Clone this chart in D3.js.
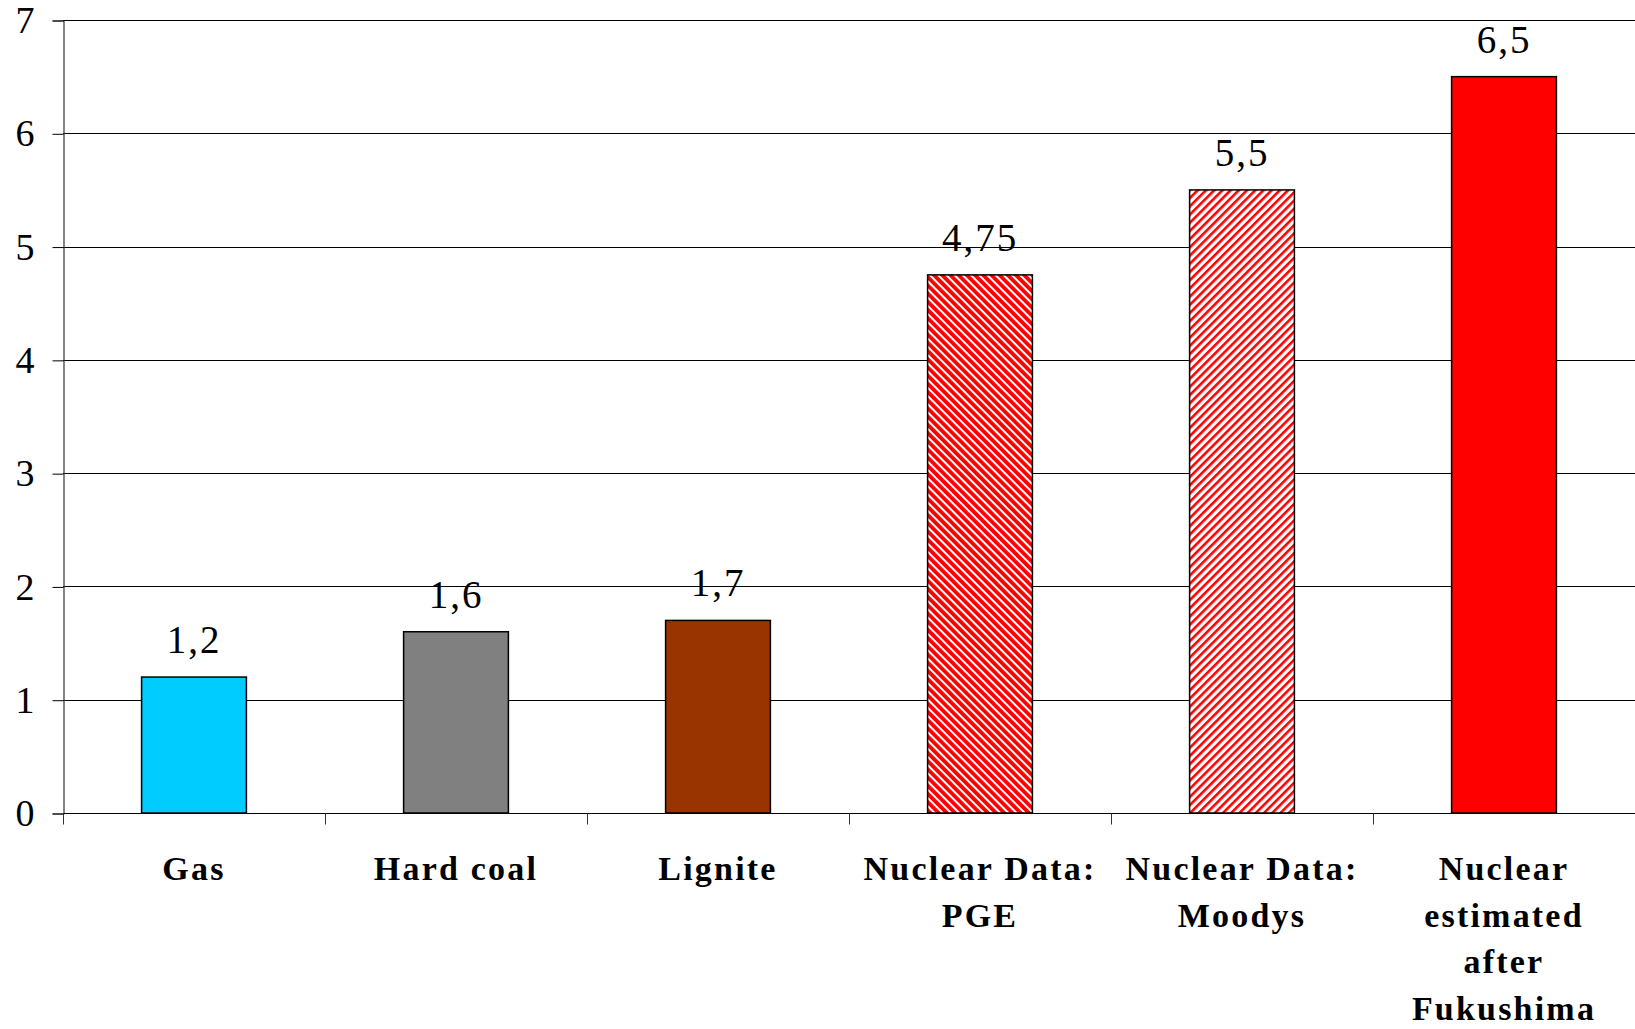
<!DOCTYPE html>
<html>
<head>
<meta charset="utf-8">
<script src="https://cdn.jsdelivr.net/npm/d3@7"></script>
<style>
  html, body { margin: 0; padding: 0; background: #fff; }
  svg { display: block; }
  svg text { font-family: "Liberation Serif", "Times New Roman", Times, Tinos, serif; }
</style>
</head>
<body>
<svg id="chart" width="1635" height="1029"></svg>
<script>
// ---- Data ----
const categories = ["Gas", "Hard coal", "Lignite", "Nuclear Data: PGE", "Nuclear Data: Moodys", "Nuclear estimated after Fukushima"];
const categoryLines = [["Gas"], ["Hard coal"], ["Lignite"], ["Nuclear Data:", "PGE"], ["Nuclear Data:", "Moodys"], ["Nuclear", "estimated", "after", "Fukushima"]];
const values = [1.2, 1.6, 1.7, 4.75, 5.5, 6.5];
const valueLabels = ["1,2", "1,6", "1,7", "4,75", "5,5", "6,5"];
const yTicks = [0, 1, 2, 3, 4, 5, 6, 7];
const fills = ["#00CCFF", "#808080", "#993300", "url(#hatchDown)", "url(#hatchUp)", "#FF0000"];

// ---- Layout ----
const svg = d3.select("#chart");
const mLeft = 63, mRight = 1635, mTop = 20, mBottom = 813;
const serif = "'Liberation Serif', 'Times New Roman', Times, Tinos, serif";

const x = d3.scaleBand().domain(categories).range([mLeft, mRight]).paddingInner(0.6).paddingOuter(0.3);
const xb = d3.scaleBand().domain(categories).range([mLeft, mRight]);
const y = d3.scaleLinear().domain([0, 7]).range([mBottom, mTop]);

// patterns: PGE "\\" dense red, Moodys "/" lighter red
const defs = svg.append("defs");
const p1 = defs.append("pattern").attr("id", "hatchDown").attr("patternUnits", "userSpaceOnUse")
  .attr("width", 5.8).attr("height", 5.8).attr("patternTransform", "rotate(-45)");
p1.append("rect").attr("width", 5.8).attr("height", 5.8).attr("fill", "#fff");
p1.append("rect").attr("x", 0).attr("width", 3.8).attr("height", 5.8).attr("fill", "#FF0000");
const p2 = defs.append("pattern").attr("id", "hatchUp").attr("patternUnits", "userSpaceOnUse")
  .attr("width", 5.8).attr("height", 5.8).attr("patternTransform", "rotate(45)");
p2.append("rect").attr("width", 5.8).attr("height", 5.8).attr("fill", "#fff");
p2.append("rect").attr("x", 0).attr("width", 2.6).attr("height", 5.8).attr("fill", "#FF0000");

// gridlines
svg.append("g").selectAll("line").data(yTicks.filter(d => d > 0)).join("line")
  .attr("x1", mLeft).attr("x2", mRight)
  .attr("y1", d => Math.round(y(d)) + 0.5).attr("y2", d => Math.round(y(d)) + 0.5)
  .attr("stroke", "#000").attr("stroke-width", 1);

// y axis
const yAxis = d3.axisLeft(y).tickValues(yTicks).tickSize(11).tickPadding(18).tickFormat(d3.format("d"));
const gy = svg.append("g").attr("transform", `translate(${mLeft + 0.5},0.5)`).call(yAxis);
gy.select(".domain").attr("stroke", "#333").attr("stroke-width", 1.2);
gy.selectAll(".tick line").attr("stroke", "#000");
gy.selectAll(".tick text").attr("font-family", serif)
  .attr("font-size", 38).attr("fill", "#000");

// bars
svg.append("g").selectAll("rect").data(values).join("rect")
  .attr("x", (d, i) => x(categories[i]))
  .attr("y", d => y(d))
  .attr("width", x.bandwidth())
  .attr("height", d => y(0) - y(d))
  .attr("fill", (d, i) => fills[i])
  .attr("stroke", "#000").attr("stroke-width", 1.5);

// x axis
const xAxis = d3.axisBottom(xb).tickSize(11).tickFormat("");
const gx = svg.append("g").attr("transform", `translate(0,${mBottom + 0.5})`).call(xAxis);
gx.select(".domain").attr("stroke", "#000").attr("stroke-width", 1.2).attr("d", `M${mLeft},0H${mRight}`);
gx.selectAll(".tick").attr("transform", d => `translate(${xb(d) + 0.5},0)`);
gx.selectAll(".tick line").attr("stroke", "#333");

// value labels
svg.append("g").selectAll("text").data(values).join("text")
  .attr("x", (d, i) => xb(categories[i]) + xb.bandwidth() / 2)
  .attr("y", d => y(d) - 24)
  .attr("text-anchor", "middle")
  .attr("font-family", serif)
  .attr("font-size", 39)
  .attr("letter-spacing", 2)
  .attr("fill", "#000")
  .text((d, i) => valueLabels[i]);

// category labels
const cg = svg.append("g");
categories.forEach((c, i) => {
  const cx = xb(c) + xb.bandwidth() / 2;
  const t = cg.append("text")
    .attr("x", cx)
    .attr("y", 880)
    .attr("text-anchor", "middle")
    .attr("font-family", serif)
    .attr("font-weight", "bold")
    .attr("font-size", 34)
    .attr("letter-spacing", 2.2)
    .attr("fill", "#000");
  categoryLines[i].forEach((ln, j) => {
    t.append("tspan").attr("x", cx).attr("y", 880 + j * 46.7).text(ln);
  });
});
</script>
</body>
</html>
